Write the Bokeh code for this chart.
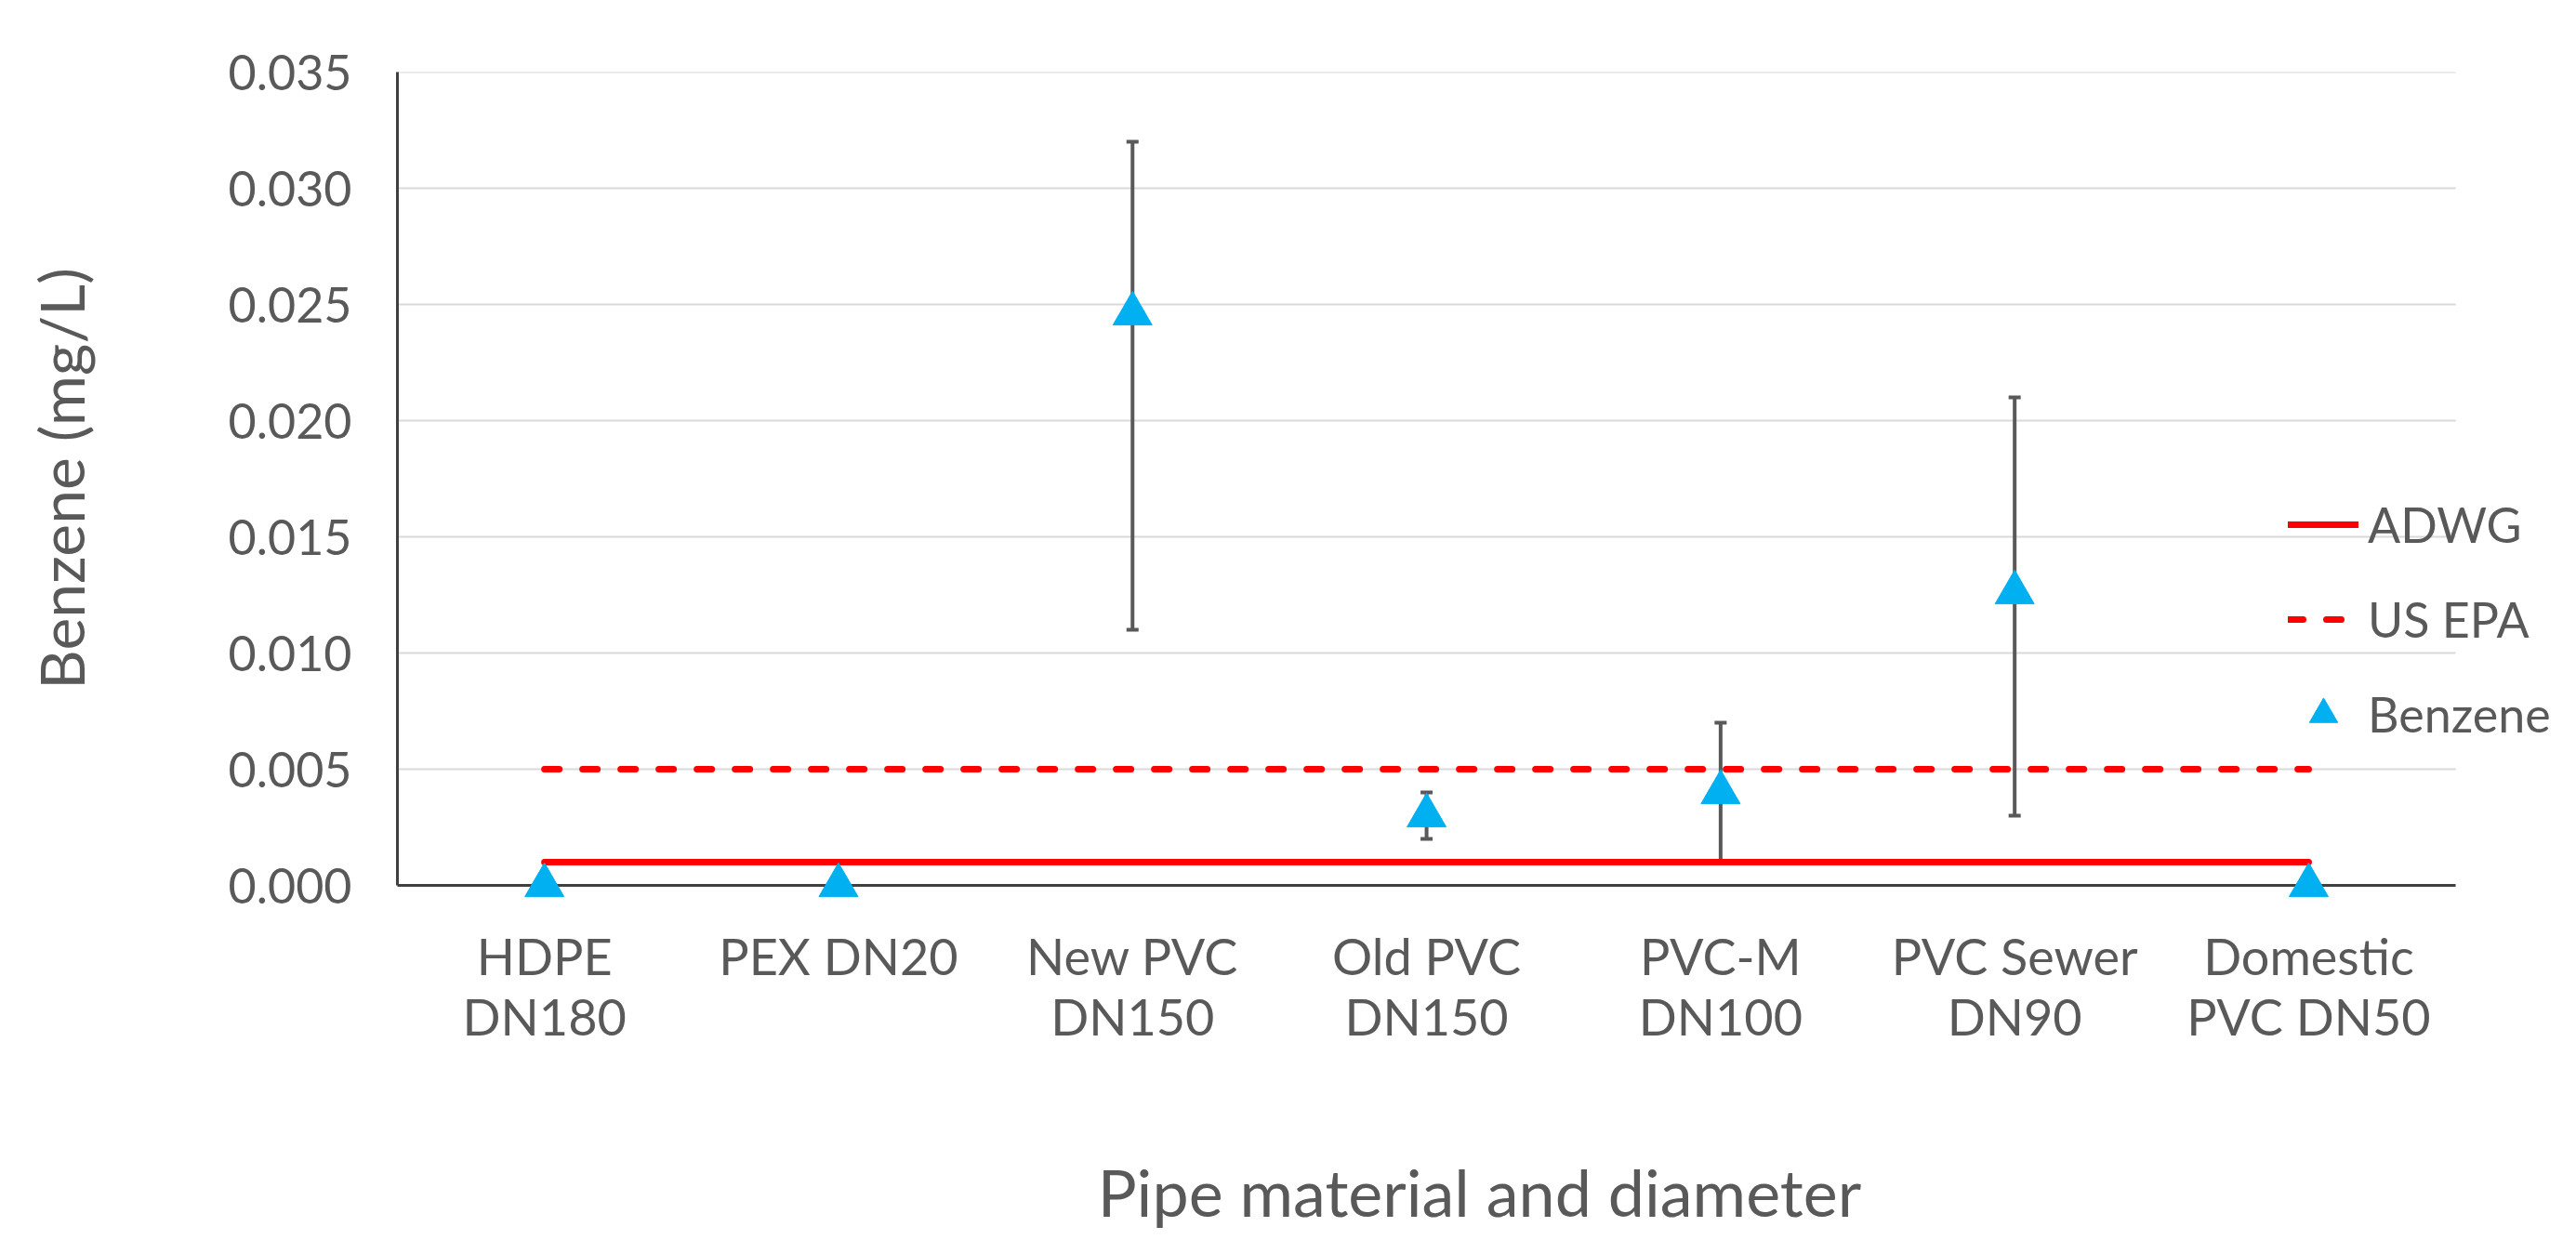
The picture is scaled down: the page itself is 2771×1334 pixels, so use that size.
from bokeh.plotting import figure
from bokeh.models import (Range1d, Whisker, TeeHead, ColumnDataSource,
                          Legend, LegendItem, FixedTicker, PrintfTickFormatter)
from bokeh.embed import file_html
from bokeh.resources import INLINE

categories = ["HDPE\nDN180", "PEX DN20", "New PVC\nDN150", "Old PVC\nDN150",
              "PVC-M\nDN100", "PVC Sewer\nDN90", "Domestic\nPVC DN50"]
benzene = [0.0, 0.0, 0.0246, 0.0030, 0.0040, 0.0126, 0.0]
err_lower = [0.0, 0.0, 0.011, 0.002, 0.001, 0.003, 0.0]
err_upper = [0.0, 0.0, 0.032, 0.004, 0.007, 0.021, 0.0]
adwg = [0.001, 0.001, 0.001, 0.001, 0.001, 0.001, 0.001]
us_epa = [0.005, 0.005, 0.005, 0.005, 0.005, 0.005, 0.005]
y_ticks = [0.000, 0.005, 0.010, 0.015, 0.020, 0.025, 0.030, 0.035]

xs = list(range(len(categories)))
x_lo, x_hi = xs[0] - 0.5, xs[-1] + 0.5

TEXT = "#595959"
FONT = "Lato"

p = figure(width=2755, height=1326, output_backend="svg", toolbar_location=None,
           x_range=Range1d(x_lo, 6.86), y_range=Range1d(y_ticks[0], y_ticks[-1]),
           min_border_left=427, min_border_right=0, min_border_top=77,
           min_border_bottom=374, outline_line_color=None)

# gridlines (only across the category span)
p.xgrid.grid_line_color = None
p.ygrid.grid_line_color = None
p.segment(x0=[x_lo] * len(y_ticks), x1=[x_hi] * len(y_ticks), y0=y_ticks, y1=y_ticks,
          line_color="#d9d9d9", line_width=2, level="underlay")

# axes
for ax in (p.xaxis[0], p.yaxis[0]):
    ax.axis_line_color = "#404040"
    ax.axis_line_width = 3
    ax.major_tick_line_color = None
    ax.minor_tick_line_color = None
    ax.major_label_text_color = TEXT
    ax.major_label_text_font = FONT
    ax.axis_label_text_color = TEXT
    ax.axis_label_text_font = FONT
    ax.axis_label_text_font_style = "normal"

p.yaxis.ticker = FixedTicker(ticks=y_ticks)
p.yaxis.formatter = PrintfTickFormatter(format="%.3f")
p.yaxis.major_label_text_font_size = "52px"
p.yaxis.major_label_standoff = 43
p.yaxis.axis_label = "Benzene (mg/L)"
p.yaxis.axis_label_text_font_size = "66px"
p.yaxis.axis_label_standoff = 138

p.xaxis.bounds = (x_lo, x_hi)
p.xaxis.ticker = FixedTicker(ticks=xs)
p.xaxis.major_label_overrides = {x: c for x, c in zip(xs, categories)}
p.xaxis.major_label_text_font_size = "54px"
p.xaxis.major_label_text_line_height = 1.0
p.xaxis.major_label_standoff = 37
p.xaxis.axis_label = "Pipe material and diameter"
p.xaxis.axis_label_text_font_size = "70px"
p.xaxis.axis_label_standoff = 111

# guideline lines
r_adwg = p.line(xs, adwg, line_color="#ff0000", line_width=7, line_cap="round")
r_epa = p.line(xs, us_epa, line_color="#ff0000", line_width=7, line_cap="round",
               line_dash="16 25")

# error bars
ex = [x for x, lo, hi in zip(xs, err_lower, err_upper) if hi > lo]
elo = [lo for lo, hi in zip(err_lower, err_upper) if hi > lo]
ehi = [hi for lo, hi in zip(err_lower, err_upper) if hi > lo]
esrc = ColumnDataSource(dict(x=ex, lower=elo, upper=ehi))
wh = Whisker(base="x", lower="lower", upper="upper", source=esrc,
             line_color="#595959", line_width=4,
             upper_head=TeeHead(size=13, line_color="#595959", line_width=4),
             lower_head=TeeHead(size=13, line_color="#595959", line_width=4))
p.add_layout(wh)

r_ben = p.scatter(xs, benzene, marker="triangle", size=42,
                  fill_color="#00b0f0", line_color="#00b0f0", level="overlay")

legend = Legend(items=[LegendItem(label="ADWG", renderers=[r_adwg]),
                       LegendItem(label="US EPA", renderers=[r_epa]),
                       LegendItem(label="Benzene", renderers=[r_ben])],
                location=(2034, 134), orientation="vertical",
                background_fill_alpha=0, border_line_color=None,
                label_text_font=FONT, label_text_font_size="52px",
                label_text_color=TEXT, glyph_width=76, glyph_height=100,
                label_height=62, spacing=2, padding=10, margin=0,
                label_standoff=10)
p.add_layout(legend)

open("out.html", "w").write(file_html(p, INLINE))
